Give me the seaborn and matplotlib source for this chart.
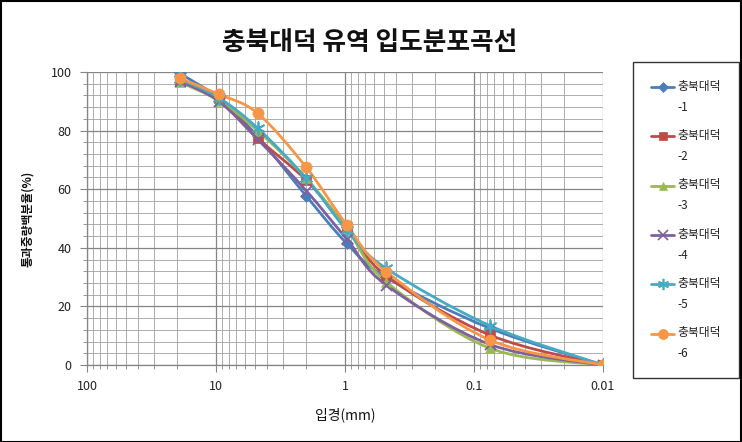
import numpy as np
import pandas as pd
import matplotlib
matplotlib.use("Agg")
import matplotlib.pyplot as plt
import seaborn as sns
from matplotlib.path import Path
from matplotlib.patches import PathPatch, Rectangle
from matplotlib.lines import Line2D
from matplotlib.legend_handler import HandlerLine2D
from matplotlib.ticker import LogLocator, MultipleLocator, NullFormatter

# ---- data ----
title = "충북대덕 유역 입도분포곡선"
xlabel = "입경(mm)"
ylabel = "통과중량백분율(%)"
sizes = [19.0, 9.5, 4.75, 2.0, 0.97, 0.48, 0.075, 0.01]
s1 = [99.5, 91.0, 78.0, 57.7, 41.5, 29.9, 12.5, 0.0]
s2 = [97.0, 91.0, 77.4, 63.1, 47.0, 30.5, 10.2, 0.0]
s3 = [96.5, 90.2, 80.0, 63.7, 46.6, 28.4, 5.7, 0.0]
s4 = [97.0, 90.0, 77.0, 59.5, 43.0, 27.3, 7.0, 0.0]
s5 = [97.5, 91.2, 80.8, 63.7, 46.0, 33.0, 13.4, 0.0]
s6 = [97.8, 92.4, 85.9, 67.5, 47.8, 31.9, 8.5, 0.0]
series_names = ["충북대덕\n-1", "충북대덕\n-2", "충북대덕\n-3",
                "충북대덕\n-4", "충북대덕\n-5", "충북대덕\n-6"]
xtick_vals = [100, 10, 1, 0.1, 0.01]
xtick_labels = ["100", "10", "1", "0.1", "0.01"]
ytick_vals = [0, 20, 40, 60, 80, 100]

colors = ["#4A7EBB", "#BE4B48", "#98B954", "#7D60A0", "#46AAC5", "#F79646"]
markers = ["D", "s", "^", "x", (6, 2, 0), "o"]
msizes = [6, 7, 7, 8, 9, 8]

sns.set_theme(style="white")
plt.rcParams['font.family'] = ['Noto Sans CJK KR', 'DejaVu Sans']

fig = plt.figure(figsize=(7.42, 4.42), dpi=100)
ax = fig.add_axes([87/742, 1-365/442, (603-87)/742, (365-72)/442])

all_series = [s1, s2, s3, s4, s5, s6]

def smooth_path(xs, ys):
    lx = np.log10(np.asarray(xs, float))
    yy = np.asarray(ys, float)
    n = len(lx)
    verts = [(xs[0], ys[0])]
    codes = [Path.MOVETO]
    for i in range(n - 1):
        i0 = max(i - 1, 0)
        i3 = min(i + 2, n - 1)
        c1x = lx[i] + (lx[i+1] - lx[i0]) / 6.0
        c1y = yy[i] + (yy[i+1] - yy[i0]) / 6.0
        c2x = lx[i+1] - (lx[i3] - lx[i]) / 6.0
        c2y = yy[i+1] - (yy[i3] - yy[i]) / 6.0
        verts += [(10**c1x, c1y), (10**c2x, c2y), (xs[i+1], ys[i+1])]
        codes += [Path.CURVE4] * 3
    return Path(verts, codes)

handles = []
for k, ys in enumerate(all_series):
    patch = PathPatch(smooth_path(sizes, ys), transform=ax.transData,
                      fill=False, edgecolor=colors[k], lw=2.0, zorder=3)
    ax.add_patch(patch)
    df = pd.DataFrame({"x": sizes, "y": ys})
    filled = markers[k] not in ("x", (6, 2, 0))
    if filled:
        sns.scatterplot(data=df, x="x", y="y", ax=ax, marker=markers[k],
                        color=colors[k], s=msizes[k]**2, edgecolor=colors[k],
                        linewidth=0.5, zorder=4, legend=False)
    else:
        sns.scatterplot(data=df, x="x", y="y", ax=ax, marker=markers[k],
                        color=colors[k], s=msizes[k]**2, linewidth=1.3,
                        zorder=4, legend=False)
    handles.append(Line2D([0], [0], color=colors[k], lw=2, marker=markers[k],
                          markersize=msizes[k]*0.9, markeredgecolor=colors[k],
                          markeredgewidth=1.2 if not filled else 0.5))

ax.set_xscale("log")
ax.set_xlim(100, 0.01)
ax.set_ylim(0, 100)
ax.set_xticks(xtick_vals)
ax.set_xticklabels(xtick_labels)
ax.xaxis.set_minor_locator(LogLocator(base=10, subs=np.arange(2, 10)))
ax.xaxis.set_minor_formatter(NullFormatter())
ax.set_yticks(ytick_vals)
ax.yaxis.set_minor_locator(MultipleLocator(4))

ax.grid(True, which="major", color="#858585", lw=0.9)
ax.grid(True, which="minor", color="#a0a0a0", lw=0.6)
ax.set_axisbelow(True)
for side in ["top", "right"]:
    ax.spines[side].set_visible(False)
for side in ["left", "bottom"]:
    ax.spines[side].set_color("#858585")
    ax.spines[side].set_linewidth(0.9)

ax.tick_params(axis="both", which="major", direction="out", length=5, width=0.8,
               color="#858585", labelsize=9, labelcolor="#222222", pad=6)
ax.tick_params(axis="both", which="minor", direction="out", length=3, width=0.6,
               color="#858585")
ax.tick_params(axis="x", which="both", bottom=True)
ax.tick_params(axis="y", which="both", left=True)

ax.set_xlabel(xlabel, fontsize=10, labelpad=10, color="#111111")
ax.set_ylabel(ylabel, fontsize=8.5, fontweight="bold", labelpad=12, color="#111111")

fig.text(370/742, 1-43/442, title, ha="center", va="center",
         fontsize=18.5, fontweight="bold", color="#111111")


class FirstLineHandler(HandlerLine2D):
    def __init__(self, dy, **kw):
        super().__init__(**kw)
        self.dy = dy

    def create_artists(self, legend, orig_handle, xdescent, ydescent, width,
                       height, fontsize, trans):
        arts = super().create_artists(legend, orig_handle, xdescent, ydescent,
                                      width, height, fontsize, trans)
        for a in arts:
            a.set_ydata(np.asarray(a.get_ydata(), float) + self.dy)
        return arts


leg_fs = 8.5
line_sp = 1.8
hmap = {h: FirstLineHandler(dy=leg_fs * line_sp * 0.5) for h in handles}
leg = fig.legend(handles, series_names, loc="upper left",
                 bbox_to_anchor=(633/742, 1-62/442), frameon=True,
                 fancybox=False, edgecolor="black", fontsize=leg_fs,
                 labelspacing=1.3, handlelength=2.0, handletextpad=0.3,
                 borderpad=1.5, borderaxespad=0, handler_map=hmap)
leg.get_frame().set_linewidth(1.0)
for t in leg.get_texts():
    t.set_color("#222222")
    t.set_linespacing(line_sp)

fig.patches.append(Rectangle((0.001, 0.001), 0.998, 0.997, transform=fig.transFigure,
                             fill=False, edgecolor="black", lw=1.5))

fig.savefig("out.png", dpi=100)
